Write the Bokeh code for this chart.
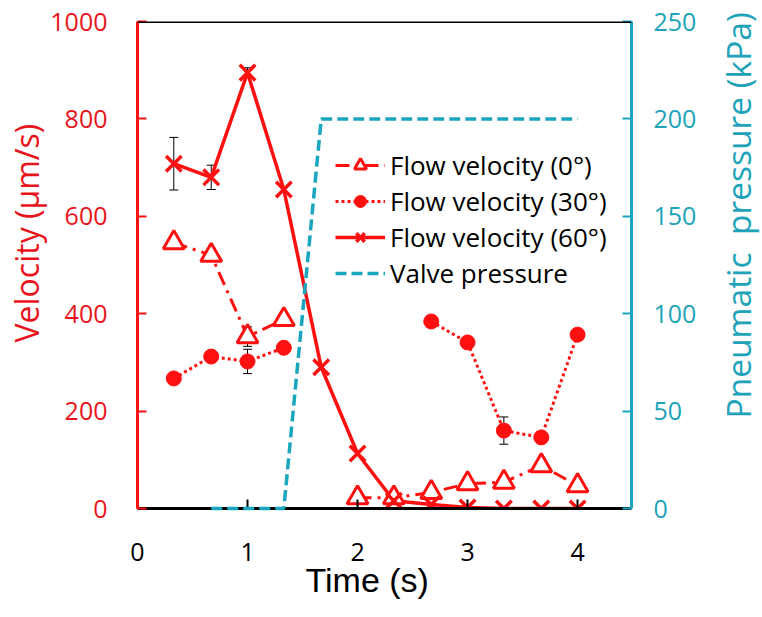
import math
from bokeh.plotting import figure
from bokeh.layouts import row
from bokeh.models import (Range1d, LinearAxis, FixedTicker, Legend, LegendItem,
                          Span, Whisker, ColumnDataSource, TeeHead, Title)
from bokeh.embed import file_html
from bokeh.resources import INLINE

nan = float("nan")

# ---- data ----
time = [0.33, 0.67, 1.0, 1.33, 1.67, 2.0, 2.33, 2.67, 3.0, 3.33, 3.67, 4.0]
v0 = [546, 520, 353, 388, nan, 22, 22, 33, 51, 54, 88, 47]
v30 = [267, 312, 302, 330, nan, nan, nan, 384, 341, 160, 146, 357]
v60 = [708, 680, 895, 655, 290, 113, 16, 8, 2, 0, 0, 0]
valve = [nan, 0, 0, 0, 200, 200, 200, 200, 200, 200, 200, 200]

err0 = [None, None, 20, None, None, None, None, None, None, None, None, None]
err30 = [None, None, 25, None, None, None, None, None, None, 28, None, None]
err60 = [54, 25, 10, None, None, None, None, None, None, None, None, None]

x_ticks = [0, 1, 2, 3, 4]
y_ticks = [0, 200, 400, 600, 800, 1000]
p_ticks = [0, 50, 100, 150, 200, 250]

RED = "#ff1010"
RED_TXT = "#e8141c"
CYAN = "#1ba6bf"
CYAN_TXT = "#20a3b9"
FONT = "Open Sans"

p = figure(width=712, height=617, output_backend="svg", toolbar_location=None,
           x_range=Range1d(0, 4.49), y_range=Range1d(0, 1000),
           min_border_left=137, min_border_right=81, min_border_top=21,
           min_border_bottom=109)
p.outline_line_color = None
p.xgrid.visible = False
p.ygrid.visible = False
p.extra_y_ranges = {"p": Range1d(0, 250)}

# axes styling
xa = p.xaxis[0]
xa.ticker = FixedTicker(ticks=x_ticks)
xa.axis_line_color = "black"
xa.axis_line_width = 3
xa.major_tick_line_color = "black"
xa.major_tick_line_width = 2
xa.major_tick_in = 9
xa.major_tick_out = 0
xa.minor_tick_line_color = None
xa.major_label_text_font = FONT
xa.major_label_text_font_size = "25px"
xa.major_label_text_color = "black"
xa.major_label_standoff = 34

ya = p.yaxis[0]
ya.ticker = FixedTicker(ticks=y_ticks)
ya.axis_line_color = RED
ya.axis_line_width = 3
ya.major_tick_line_color = RED
ya.major_tick_line_width = 2
ya.major_tick_in = 9
ya.major_tick_out = 0
ya.minor_tick_line_color = None
ya.major_label_text_font = FONT
ya.major_label_text_font_size = "25px"
ya.major_label_text_color = RED_TXT
ya.major_label_standoff = 30

ra = LinearAxis(y_range_name="p", ticker=FixedTicker(ticks=p_ticks))
ra.axis_line_color = CYAN
ra.axis_line_width = 3
ra.major_tick_line_color = CYAN
ra.major_tick_line_width = 2
ra.major_tick_in = 9
ra.major_tick_out = 0
ra.minor_tick_line_color = None
ra.major_label_text_font = FONT
ra.major_label_text_font_size = "25px"
ra.major_label_text_color = CYAN_TXT
ra.major_label_standoff = 22
p.add_layout(ra, "right")

p.add_layout(Span(location=1000, dimension="width", line_color="black", line_width=3))

# series
l0 = p.line(time, v0, line_color=RED, line_width=3, line_dash="14 6 3 6")
l30 = p.line(time, v30, line_color=RED, line_width=3, line_dash="3 3")
l60 = p.line(time, v60, line_color=RED, line_width=3.5)

# error bars
def err_source(vals, errs):
    xs, up, lo = [], [], []
    for t, v, e in zip(time, vals, errs):
        if e is not None:
            xs.append(t); up.append(v + e); lo.append(v - e)
    return ColumnDataSource(dict(x=xs, upper=up, lower=lo))

for vals, errs in ((v0, err0), (v30, err30), (v60, err60)):
    w = Whisker(source=err_source(vals, errs), base="x", upper="upper", lower="lower",
                line_color="black", line_width=1,
                upper_head=TeeHead(size=9, line_color="black", line_width=1),
                lower_head=TeeHead(size=9, line_color="black", line_width=1))
    p.add_layout(w)

m0 = p.scatter(time, v0, marker="triangle", size=21, line_color=RED, line_width=3,
               fill_color="white")
m30 = p.scatter(time, v30, marker="circle", size=15, line_color=RED, fill_color=RED)
m60 = p.scatter(time, v60, marker="x", size=22, line_color=RED, line_width=3.5)

r_valve = p.line(time, valve, y_range_name="p", line_color=CYAN, line_width=3.5,
                 line_dash="11 5", level="overlay")

legend = Legend(items=[
    LegendItem(label="Flow velocity (0°)", renderers=[l0, m0]),
    LegendItem(label="Flow velocity (30°)", renderers=[l30, m30]),
    LegendItem(label="Flow velocity (60°)", renderers=[l60, m60]),
    LegendItem(label="Valve pressure", renderers=[r_valve]),
], location=(198, 217))
legend.border_line_color = None
legend.background_fill_alpha = 0
legend.label_text_font = FONT
legend.label_text_font_size = "26px"
legend.label_text_color = "black"
legend.glyph_width = 50
legend.glyph_height = 30
legend.label_height = 30
legend.spacing = 0
legend.padding = 0
legend.margin = 0
legend.label_standoff = 5
p.add_layout(legend)

# axis titles
t_left = Title(text="Velocity (μm/s)", align="left", offset=166,
               text_font=FONT, text_font_size="32px", text_font_style="normal",
               text_color=RED_TXT, standoff=0)
p.add_layout(t_left, "left")
t_below = Title(text="Time (s)", align="left", offset=168, vertical_align="top",
                text_font="Liberation Sans", text_font_size="34px",
                text_font_style="normal", text_color="black", standoff=-6)
p.add_layout(t_below, "below")

# right-hand title strip (reads bottom to top, like the reference)
p2 = figure(width=50, height=617, output_backend="svg", toolbar_location=None,
            x_range=Range1d(0, 1), y_range=Range1d(0, 1),
            x_axis_location=None, y_axis_location=None, min_border=0)
p2.outline_line_color = None
p2.grid.visible = False
t_right = Title(text="Pneumatic \u00a0pressure (kPa)", align="left", offset=90,
                text_font=FONT, text_font_size="33.5px", text_font_style="normal",
                text_color=CYAN_TXT, standoff=0)
p2.add_layout(t_right, "left")

layout = row(p, p2)
open("out.html", "w").write(file_html(layout, INLINE))
